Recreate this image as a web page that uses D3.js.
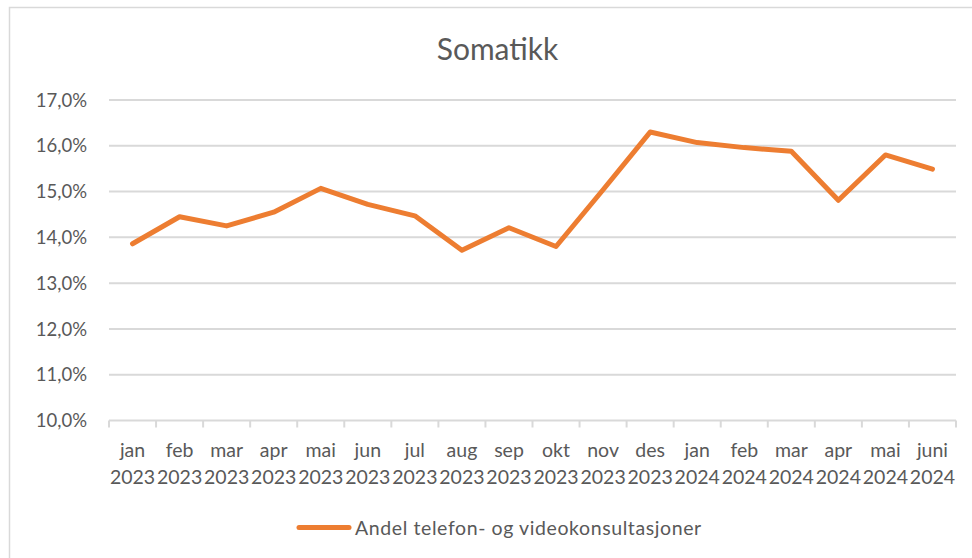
<!DOCTYPE html>
<html><head><meta charset="utf-8">
<script src="https://cdn.jsdelivr.net/npm/d3@7"></script>
<style>
html,body{margin:0;padding:0;background:#fff;}
svg{display:block;font-family:Lato,"Open Sans",sans-serif;}
</style></head>
<body>
<svg id="chart" width="972" height="558"></svg>
<script>
const months = ["jan","feb","mar","apr","mai","jun","jul","aug","sep","okt","nov","des","jan","feb","mar","apr","mai","juni"];
const years  = ["2023","2023","2023","2023","2023","2023","2023","2023","2023","2023","2023","2023","2024","2024","2024","2024","2024","2024"];
const values = [13.86,14.45,14.25,14.55,15.07,14.72,14.47,13.72,14.21,13.80,15.04,16.30,16.07,15.96,15.88,14.81,15.80,15.49];
const yTicks = [10,11,12,13,14,15,16,17];
const title = "Somatikk";
const seriesName = "Andel telefon- og videokonsultasjoner";

const svg = d3.select("#chart");
const ink = "#595959", grid = "#d9d9d9", orange = "#ed7d31";
const L = 109, R = 956, T = 100, B = 420.5;

// chart frame
svg.append("rect").attr("x",9.5).attr("y",7.5).attr("width",1000).attr("height",600)
  .attr("fill","#fff").attr("stroke","#d9d9d9").attr("stroke-width",1.5);

const keys = months.map((m,i)=>i);
const x = d3.scaleBand().domain(keys).range([L,R]).padding(0);
const y = d3.scaleLinear().domain([10,17]).range([B,T]);

// gridlines
svg.append("g").selectAll("line").data(yTicks.slice(1)).join("line")
  .attr("x1",L).attr("x2",R).attr("y1",d=>y(d)).attr("y2",d=>y(d))
  .attr("stroke",grid).attr("stroke-width",2);

// y labels
const fmt = d => d.toFixed(1).replace(".",",")+"%";
svg.append("g").selectAll("text").data(yTicks).join("text")
  .attr("x",87).attr("y",d=>y(d)).attr("dy","0.36em").attr("text-anchor","end")
  .attr("fill",ink).attr("font-size",18.5).text(fmt);

// x axis line and ticks
svg.append("line").attr("x1",L).attr("x2",R).attr("y1",B).attr("y2",B)
  .attr("stroke",grid).attr("stroke-width",2);
const bounds = keys.map(k=>x(k)).concat([R]);
svg.append("g").selectAll("line").data(bounds).join("line")
  .attr("x1",d=>d).attr("x2",d=>d).attr("y1",B).attr("y2",B+7)
  .attr("stroke",grid).attr("stroke-width",2);

// x labels
const xl = svg.append("g").selectAll("g").data(keys).join("g")
  .attr("transform",k=>`translate(${x(k)+x.bandwidth()/2},0)`);
xl.append("text").attr("y",457).attr("text-anchor","middle").attr("fill",ink)
  .attr("font-size",19.5).text(k=>months[k]);
xl.append("text").attr("y",484).attr("text-anchor","middle").attr("fill",ink)
  .attr("font-size",19.5).text(k=>years[k]);

// line
const line = d3.line().x((d,i)=>x(i)+x.bandwidth()/2).y(d=>y(d));
svg.append("path").datum(values).attr("d",line).attr("fill","none")
  .attr("stroke",orange).attr("stroke-width",5).attr("stroke-linejoin","round").attr("stroke-linecap","round");

// title
svg.append("text").attr("x",497.5).attr("y",60).attr("text-anchor","middle")
  .attr("fill",ink).attr("font-size",30).text(title);

// legend
svg.append("line").attr("x1",299).attr("x2",349).attr("y1",527.5).attr("y2",527.5)
  .attr("stroke",orange).attr("stroke-width",5).attr("stroke-linecap","round");
svg.append("text").attr("x",355).attr("y",534.5).attr("fill",ink).attr("font-size",19.5)
  .attr("letter-spacing",0.6).text(seriesName);
</script>
</body></html>
